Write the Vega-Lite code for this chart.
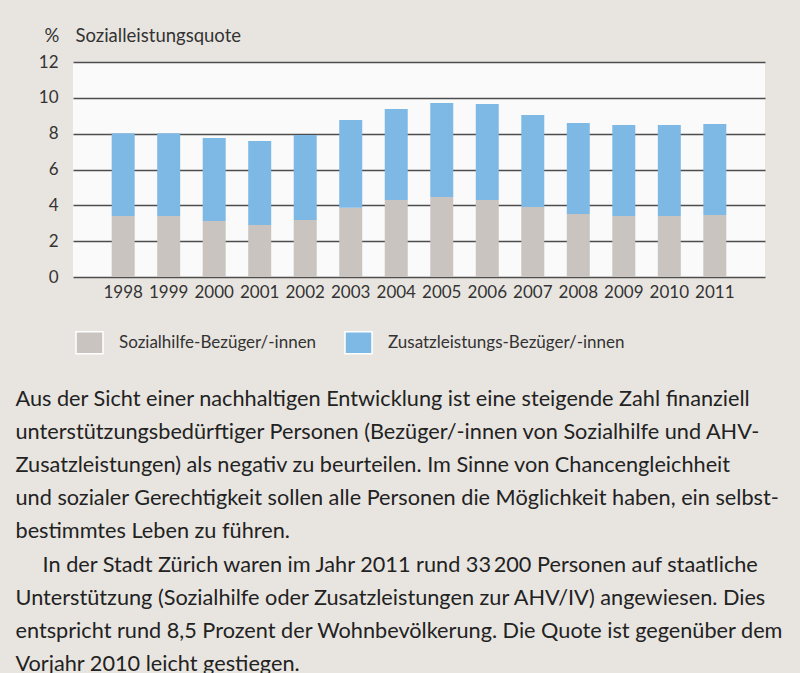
{
  "$schema": "https://vega.github.io/schema/vega-lite/v6.json",
  "autosize": {"type": "none"},
  "width": 692,
  "height": 215,
  "padding": {"left": 73, "top": 62, "right": 35, "bottom": 396},
  "background": "#e8e5e0",
  "data": {
    "values": [
      {"year": "1998", "type": "Sozialhilfe-Bezüger/-innen", "o": 1, "value": 3.40},
      {"year": "1999", "type": "Sozialhilfe-Bezüger/-innen", "o": 1, "value": 3.40},
      {"year": "2000", "type": "Sozialhilfe-Bezüger/-innen", "o": 1, "value": 3.12},
      {"year": "2001", "type": "Sozialhilfe-Bezüger/-innen", "o": 1, "value": 2.90},
      {"year": "2002", "type": "Sozialhilfe-Bezüger/-innen", "o": 1, "value": 3.18},
      {"year": "2003", "type": "Sozialhilfe-Bezüger/-innen", "o": 1, "value": 3.87},
      {"year": "2004", "type": "Sozialhilfe-Bezüger/-innen", "o": 1, "value": 4.30},
      {"year": "2005", "type": "Sozialhilfe-Bezüger/-innen", "o": 1, "value": 4.46},
      {"year": "2006", "type": "Sozialhilfe-Bezüger/-innen", "o": 1, "value": 4.30},
      {"year": "2007", "type": "Sozialhilfe-Bezüger/-innen", "o": 1, "value": 3.91},
      {"year": "2008", "type": "Sozialhilfe-Bezüger/-innen", "o": 1, "value": 3.52},
      {"year": "2009", "type": "Sozialhilfe-Bezüger/-innen", "o": 1, "value": 3.40},
      {"year": "2010", "type": "Sozialhilfe-Bezüger/-innen", "o": 1, "value": 3.40},
      {"year": "2011", "type": "Sozialhilfe-Bezüger/-innen", "o": 1, "value": 3.46},
      {"year": "1998", "type": "Zusatzleistungs-Bezüger/-innen", "o": 2, "value": 4.62},
      {"year": "1999", "type": "Zusatzleistungs-Bezüger/-innen", "o": 2, "value": 4.62},
      {"year": "2000", "type": "Zusatzleistungs-Bezüger/-innen", "o": 2, "value": 4.64},
      {"year": "2001", "type": "Zusatzleistungs-Bezüger/-innen", "o": 2, "value": 4.69},
      {"year": "2002", "type": "Zusatzleistungs-Bezüger/-innen", "o": 2, "value": 4.74},
      {"year": "2003", "type": "Zusatzleistungs-Bezüger/-innen", "o": 2, "value": 4.89},
      {"year": "2004", "type": "Zusatzleistungs-Bezüger/-innen", "o": 2, "value": 5.07},
      {"year": "2005", "type": "Zusatzleistungs-Bezüger/-innen", "o": 2, "value": 5.25},
      {"year": "2006", "type": "Zusatzleistungs-Bezüger/-innen", "o": 2, "value": 5.35},
      {"year": "2007", "type": "Zusatzleistungs-Bezüger/-innen", "o": 2, "value": 5.13},
      {"year": "2008", "type": "Zusatzleistungs-Bezüger/-innen", "o": 2, "value": 5.07},
      {"year": "2009", "type": "Zusatzleistungs-Bezüger/-innen", "o": 2, "value": 5.08},
      {"year": "2010", "type": "Zusatzleistungs-Bezüger/-innen", "o": 2, "value": 5.08},
      {"year": "2011", "type": "Zusatzleistungs-Bezüger/-innen", "o": 2, "value": 5.08}
    ]
  },
  "mark": {"type": "bar"},
  "encoding": {
    "x": {
      "field": "year",
      "type": "ordinal",
      "scale": {"paddingInner": 0.495, "paddingOuter": 0.85},
      "axis": {
        "labelAngle": 0,
        "labelFont": "Lato",
        "labelFontSize": 17,
        "labelColor": "#333333",
        "labelPadding": 7,
        "ticks": false,
        "domain": false,
        "title": [
          "Aus der Sicht einer nachhaltigen Entwicklung ist eine steigende Zahl finanziell",
          "unterstützungsbedürftiger Personen (Bezüger/-innen von Sozialhilfe und AHV-",
          "Zusatzleistungen) als negativ zu beurteilen. Im Sinne von Chancengleichheit",
          "und sozialer Gerechtigkeit sollen alle Personen die Möglichkeit haben, ein selbst-",
          "bestimmtes Leben zu führen.",
          "\u200d\u2003\u2002In der Stadt Zürich waren im Jahr 2011 rund 33\u2009200 Personen auf staatliche",
          "Unterstützung (Sozialhilfe oder Zusatzleistungen zur AHV/IV) angewiesen. Dies",
          "entspricht rund 8,5 Prozent der Wohnbevölkerung. Die Quote ist gegenüber dem",
          "Vorjahr 2010 leicht gestiegen."
        ],
        "titleFont": "Lato",
        "titleFontSize": 21.7,
        "titleFontWeight": "normal",
        "titleColor": "#222222",
        "titleLineHeight": 33.2,
        "titleAlign": "left",
        "titleAnchor": "start",
        "titleBaseline": "alphabetic",
        "titleX": -58,
        "titleY": 128
      }
    },
    "y": {
      "field": "value",
      "type": "quantitative",
      "stack": "zero",
      "scale": {"domain": [0, 12], "nice": false},
      "axis": {
        "values": [0, 2, 4, 6, 8, 10, 12],
        "labelFont": "Lato",
        "labelFontSize": 17,
        "labelColor": "#333333",
        "labelPadding": 15,
        "ticks": false,
        "domain": false,
        "grid": true,
        "gridColor": "#4d4d4d",
        "gridWidth": 1.3,
        "title": "%\u2003\u2009Sozialleistungsquote",
        "titleFont": "Lato",
        "titleFontSize": 18.5,
        "titleFontWeight": "normal",
        "titleColor": "#333333",
        "titleAngle": 0,
        "titleAlign": "left",
        "titleBaseline": "alphabetic",
        "titleX": -29,
        "titleY": -21
      }
    },
    "color": {
      "field": "type",
      "type": "nominal",
      "scale": {
        "domain": ["Sozialhilfe-Bezüger/-innen", "Zusatzleistungs-Bezüger/-innen"],
        "range": ["#c9c4bf", "#7eb8e4"]
      },
      "legend": {
        "title": null,
        "orient": "none",
        "direction": "horizontal",
        "legendX": 2,
        "legendY": 266,
        "padding": 0,
        "symbolType": "M-1,-0.815H1V0.815H-1Z",
        "symbolSize": 729,
        "symbolStrokeColor": "white",
        "symbolStrokeWidth": 1.5,
        "symbolOpacity": 1,
        "labelFont": "Lato",
        "labelFontSize": 17,
        "labelColor": "#333333",
        "labelOffset": 15,
        "columnPadding": 25,
        "labelLimit": 400
      }
    },
    "order": {"field": "o", "type": "quantitative"}
  },
  "config": {
    "view": {"fill": "#fafafa", "stroke": null},
    "axis": {"gridOpacity": 1}
  }
}
